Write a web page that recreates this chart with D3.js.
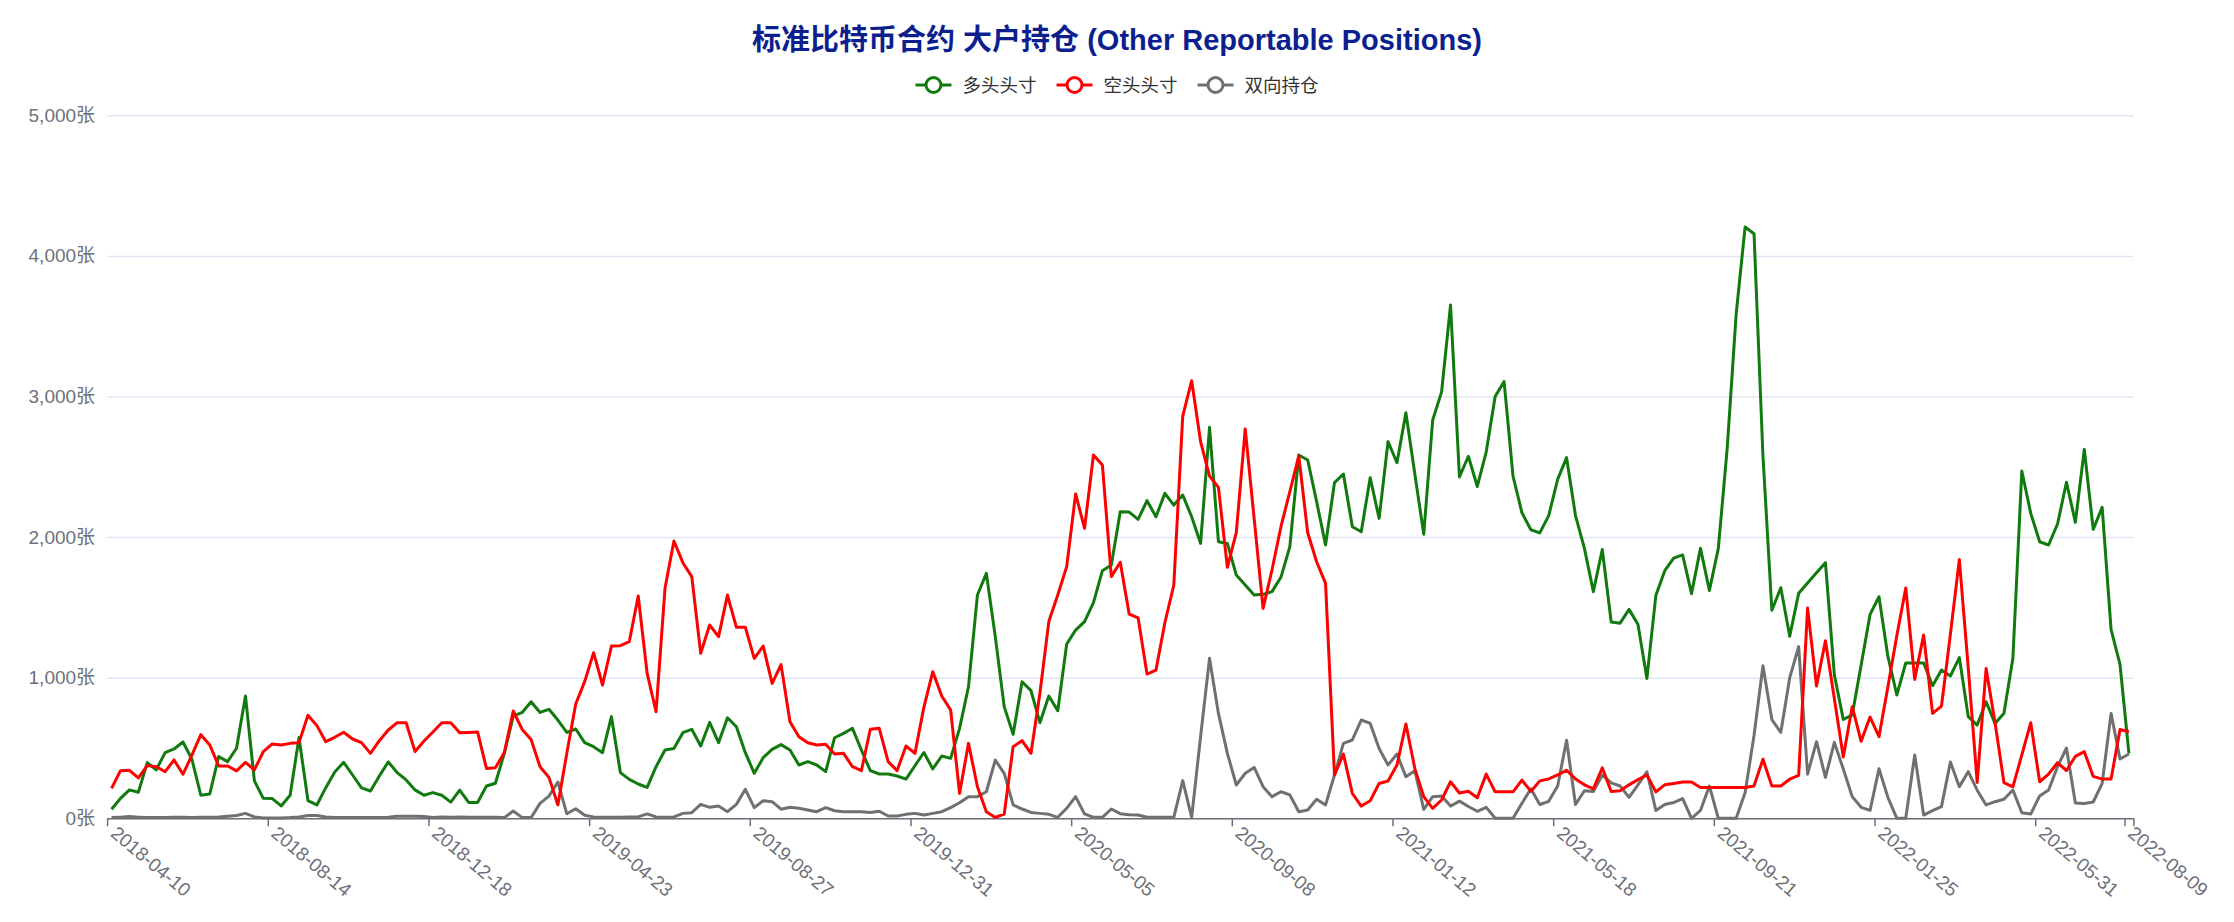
<!DOCTYPE html>
<html>
<head>
<meta charset="utf-8">
<script src="https://cdn.jsdelivr.net/npm/d3@7/dist/d3.min.js"></script>
<style>
html,body{margin:0;padding:0;background:#fff;}
svg{display:block;}
text{font-family:"Liberation Sans","Noto Sans CJK SC",Arial,sans-serif;}
</style>
</head>
<body>
<svg id="chart" width="2234" height="922"></svg>
<script>
const titleText = "标准比特币合约 大户持仓 (Other Reportable Positions)";
const seriesNames = ["多头头寸", "空头头寸", "双向持仓"];
const seriesColors = ["#117a0f", "#ff0000", "#707070"];

// Tick labels (weekly categories, every 18th week plus the last labelled week)
const tickIndex = [0, 18, 36, 54, 72, 90, 108, 126, 144, 162, 180, 198, 216, 226];
const tickLabels = ["2018-04-10","2018-08-14","2018-12-18","2019-04-23","2019-08-27","2019-12-31",
  "2020-05-05","2020-09-08","2021-01-12","2021-05-18","2021-09-21","2022-01-25","2022-05-31","2022-08-09"];
const weekCount = 227;
const yTicks = [0, 1000, 2000, 3000, 4000, 5000];

const longPos = [64,142,202,185,396,344,467,493,543,420,164,173,439,403,498,870,266,142,140,88,
164,574,126,95,218,330,398,308,216,194,301,401,325,273,202,164,183,164,115,201,
113,113,230,249,462,727,753,829,753,775,699,611,635,538,509,467,723,325,277,244,
220,367,486,497,609,633,514,682,538,715,651,467,320,431,490,524,486,379,403,379,
332,573,604,640,486,339,315,315,301,279,374,468,351,443,426,640,936,1588,1742,1292,
794,597,971,908,680,870,765,1239,1339,1399,1534,1761,1801,2180,2178,2126,2259,2145,2311,2228,
2299,2145,1955,2781,1967,1955,1730,1659,1588,1593,1612,1714,1932,2584,2548,2252,1944,2387,2449,2074,
2038,2422,2133,2679,2529,2885,2449,2021,2832,3033,3650,2428,2575,2360,2607,3000,3106,2433,2173,2052,
2030,2153,2411,2565,2153,1920,1612,1912,1396,1388,1486,1379,995,1584,1761,1850,1873,1598,1920,1620,
1920,2635,3588,4205,4158,2579,1480,1640,1295,1600,1674,1747,1818,1020,703,734,1090,1450,1576,1150,
877,1105,1105,1105,943,1055,1012,1143,723,663,829,675,747,1138,2470,2169,1967,1944,2093,2390,
2105,2624,2055,2212,1342,1095,462];

const shortPos = [213,339,341,287,375,367,332,415,313,450,595,522,372,372,337,398,344,474,529,522,
533,538,733,659,545,576,612,564,538,462,552,628,680,680,474,550,614,680,680,609,
611,614,355,360,467,763,632,561,367,291,95,462,813,972,1178,948,1225,1228,1256,1581,
1031,758,1636,1972,1818,1719,1173,1375,1292,1588,1358,1358,1137,1225,960,1093,687,580,537,521,
526,457,462,367,339,633,640,403,339,514,462,789,1043,870,770,177,533,225,47,6,
30,509,552,462,889,1399,1588,1790,2307,2062,2584,2513,1719,1821,1453,1426,1026,1054,1391,1659,
2861,3112,2679,2434,2354,1785,2031,2769,2133,1493,1766,2074,2323,2577,2031,1825,1671,308,457,177,
87,125,248,265,379,671,355,154,71,130,260,180,192,146,314,188,188,188,272,191,
266,280,308,342,280,238,210,359,191,196,238,275,308,188,238,247,258,258,219,219,
219,219,219,219,230,420,230,230,278,305,1495,941,1263,850,436,794,548,720,581,935,
1300,1638,988,1304,746,798,1310,1840,1070,255,1066,680,253,224,450,680,260,315,395,340,
440,474,298,279,279,632,616];

const spreadPos = [5,8,12,8,5,5,5,8,8,5,8,8,10,15,20,35,10,3,3,3,
5,10,20,20,10,5,5,5,5,5,5,8,15,15,15,12,5,10,8,10,
8,8,8,8,5,52,5,5,106,158,258,32,68,22,10,7,7,7,10,10,
31,10,7,10,35,40,99,78,87,47,99,206,76,125,118,65,78,71,59,47,
76,54,47,47,47,42,50,16,16,28,35,24,35,47,76,111,154,154,189,414,
320,95,66,42,35,28,7,71,154,31,7,7,66,33,26,24,7,7,7,7,
268,7,581,1138,746,462,237,320,362,225,154,189,166,47,59,135,95,308,533,557,
699,675,497,379,457,296,339,64,154,159,87,122,84,50,78,0,0,0,107,210,
98,121,230,555,98,196,191,308,252,230,149,238,331,56,98,112,140,0,56,230,
0,0,0,182,589,1085,701,611,1000,1221,314,545,291,540,350,154,78,56,352,148,
0,0,450,23,54,83,400,225,332,200,95,118,135,201,40,31,159,201,367,500,
108,106,116,249,746,422,457];

const series = [longPos, shortPos, spreadPos];

const svg = d3.select("#chart");
const plotLeft = 107.1, plotRight = 2133.4, plotTop = 115.3, plotBottom = 818.3;

const x = d3.scaleLinear().domain([0, weekCount]).range([plotLeft, plotRight]);
const y = d3.scaleLinear().domain([0, 5000]).range([plotBottom, plotTop]);

// Title
svg.append("text")
  .attr("x", 1117).attr("y", 50)
  .attr("text-anchor", "middle")
  .attr("font-size", 29).attr("font-weight", "bold")
  .attr("fill", "#0b1f8f")
  .text(titleText);

// Grid + y axis labels
const yAxis = d3.axisLeft(y).tickValues(yTicks).tickSize(-(plotRight - plotLeft)).tickPadding(12)
  .tickFormat(d => d3.format(",")(d) + "张");
const gy = svg.append("g").attr("transform", `translate(${plotLeft},0)`).call(yAxis);
gy.select(".domain").remove();
gy.selectAll(".tick line").attr("stroke", "#e0e6f1").attr("stroke-width", 1.5);
gy.selectAll(".tick text").attr("fill", "#6e7079").attr("font-size", 19)
  .attr("font-family", "\"Liberation Sans\",\"Noto Sans CJK SC\",sans-serif");

// x axis
const xTickVals = tickIndex.concat([weekCount]);
const xAxis = d3.axisBottom(x).tickValues(xTickVals).tickSize(8).tickSizeOuter(0)
  .tickFormat((d) => { const k = tickIndex.indexOf(d); return k >= 0 ? tickLabels[k] : ""; });
const gx = svg.append("g").attr("transform", `translate(0,${plotBottom})`).call(xAxis);
gx.select(".domain").attr("stroke", "#6e7079").attr("stroke-width", 1.5);
gx.selectAll(".tick line").attr("stroke", "#6e7079").attr("stroke-width", 1.5);
gx.selectAll(".tick text")
  .attr("fill", "#6e7079").attr("font-size", 19)
  .attr("font-family", "\"Liberation Sans\",sans-serif")
  .attr("text-anchor", "start")
  .attr("dy", null)
  .attr("y", 0)
  .attr("transform", "translate(5,13) rotate(40)")
  .attr("dominant-baseline", "middle");

// Lines (gray first so it sits under)
const line = d3.line().x((d, i) => x(i + 0.5)).y(d => y(d));
const order = [2, 0, 1];
order.forEach(k => {
  svg.append("path").datum(series[k])
    .attr("fill", "none")
    .attr("stroke", seriesColors[k])
    .attr("stroke-width", 3)
    .attr("stroke-linejoin", "round")
    .attr("d", line);
});

// Legend
const lg = svg.append("g");
const items = lg.selectAll("g").data(seriesNames).enter().append("g");
items.append("line").attr("x1", -18).attr("x2", 18).attr("y1", 0).attr("y2", 0)
  .attr("stroke", (d, i) => seriesColors[i]).attr("stroke-width", 3);
items.append("circle").attr("r", 7.5).attr("fill", "#fff")
  .attr("stroke", (d, i) => seriesColors[i]).attr("stroke-width", 3);
items.append("text").attr("x", 29).attr("y", 0).attr("dominant-baseline", "central")
  .attr("font-size", 18.5).attr("fill", "#333").text(d => d);
let widths = [];
items.each(function() { widths.push(this.querySelector("text").getComputedTextLength()); });
const G = 38;
const spans = widths.map(w => 29 + w + G);
const total = 18 + d3.sum(spans) - G;
let cx = 1117 - total / 2 + 18;
items.attr("transform", (d, i) => {
  const t = `translate(${cx},85)`;
  cx += spans[i];
  return t;
});
</script>
</body>
</html>
